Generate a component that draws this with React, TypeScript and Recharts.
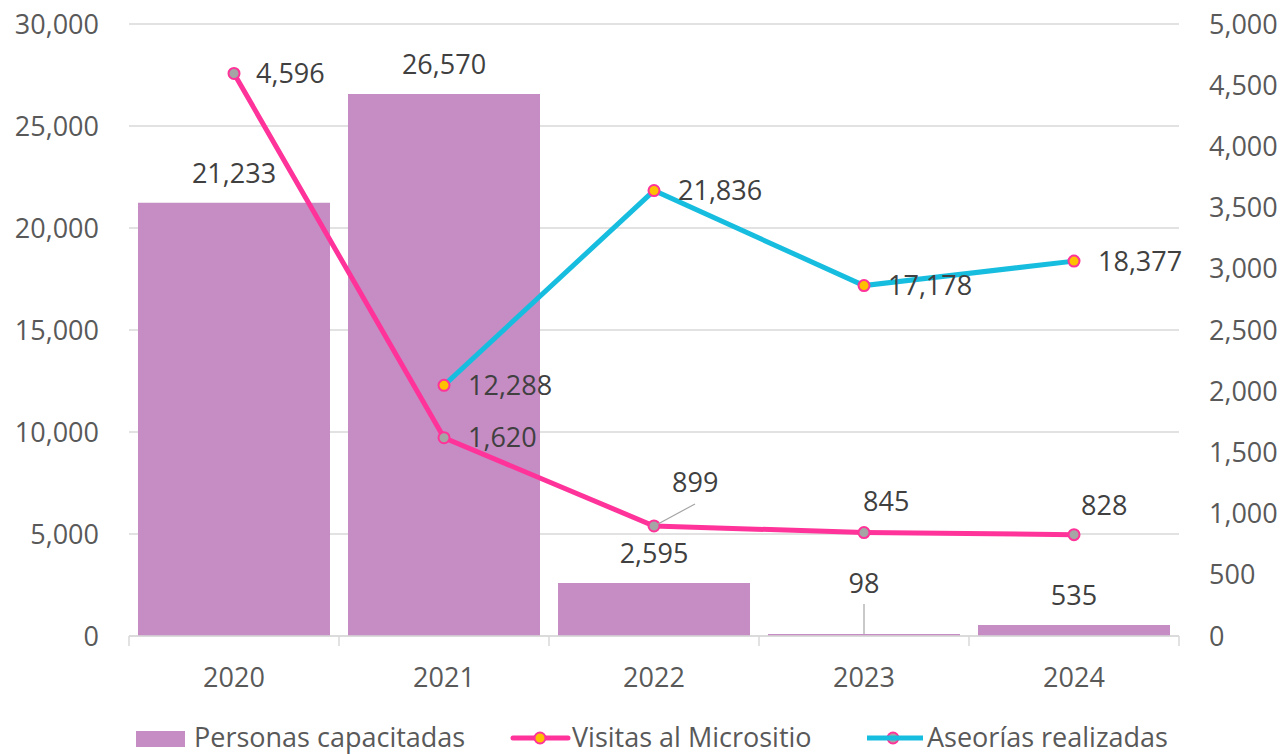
import React from 'react';
import {
  ComposedChart,
  Bar,
  Line,
  XAxis,
  YAxis,
  CartesianGrid,
  LabelList,
} from 'recharts';

// ---- Data ----
const years = ['2020', '2021', '2022', '2023', '2024'];
const personasCapacitadas = [21233, 26570, 2595, 98, 535];
const visitasMicrositio = [4596, 1620, 899, 845, 828];
const asesoriasRealizadas: (number | null)[] = [null, 12288, 21836, 17178, 18377];
const leftTicks = [0, 5000, 10000, 15000, 20000, 25000, 30000];
const rightTicks = [0, 500, 1000, 1500, 2000, 2500, 3000, 3500, 4000, 4500, 5000];
const legendLabels = ['Personas capacitadas', 'Visitas al Micrositio', 'Aseorías realizadas'];

const data = years.map((y, i) => ({
  year: y,
  personas: personasCapacitadas[i],
  visitas: visitasMicrositio[i],
  asesorias: asesoriasRealizadas[i],
}));

// ---- Style ----
const W = 1281;
const H = 700;
const LEFT_W = 129;
const RIGHT_W = 102;
const TOP = 24;
const XAXIS_H = 64;
const PLOT_W = W - LEFT_W - RIGHT_W;
const BAND = PLOT_W / years.length;

const FONT = '"Open Sans", sans-serif';
const FS = 27;
const AXIS_TEXT = '#595959';
const LABEL_TEXT = '#404040';
const GRID = '#D9D9D9';
const BAR_COLOR = '#C68DC4';
const PINK = '#FF3399';
const CYAN = '#17BDDF';
const ORANGE = '#FFC000';
const GRAY = '#A5A5A5';
const CAP_HALF = 9.5;

const fmt = (v: number) => v.toLocaleString('en-US');

// label placement for the pink series (dx from point, dy of text centre from point)
const visitasPlacement = [
  { dx: 22, dy: 0, leader: false },
  { dx: 24, dy: 0, leader: false },
  { dx: 18, dy: -43, leader: true },
  { dx: -1, dy: -31, leader: false },
  { dx: 7, dy: -29, leader: false },
];

const BarLabel = (props: any) => {
  const { x, y, width, height, value } = props;
  if (value == null) return null;
  const cx = Number(x) + Number(width) / 2;
  const top = Number(y);
  const small = Math.abs(Number(height)) < 6;
  const gap = small ? 41 : 20;
  return (
    <g>
      {small && (
        <line x1={cx} y1={top - 30} x2={cx} y2={top} stroke={GRAY} strokeWidth={1.2} />
      )}
      <text
        x={cx}
        y={top - gap}
        textAnchor="middle"
        fill={LABEL_TEXT}
        fontSize={FS}
        fontFamily={FONT}
      >
        {fmt(Number(value))}
      </text>
    </g>
  );
};

const VisitasLabel = (props: any) => {
  const { x, y, value, index } = props;
  if (value == null) return null;
  const p = visitasPlacement[index] || { dx: 22, dy: 0, leader: false };
  const px = Number(x);
  const py = Number(y);
  return (
    <g>
      {p.leader && (
        <line x1={px + 4} y1={py - 2} x2={px + 41} y2={py - 22} stroke={GRAY} strokeWidth={1.2} />
      )}
      <text
        x={px + p.dx}
        y={py + p.dy + CAP_HALF}
        textAnchor="start"
        fill={LABEL_TEXT}
        fontSize={FS}
        fontFamily={FONT}
      >
        {fmt(Number(value))}
      </text>
    </g>
  );
};

const AsesoriasLabel = (props: any) => {
  const { x, y, value } = props;
  if (value == null) return null;
  return (
    <text
      x={Number(x) + 24}
      y={Number(y) + CAP_HALF}
      textAnchor="start"
      fill={LABEL_TEXT}
      fontSize={FS}
      fontFamily={FONT}
    >
      {fmt(Number(value))}
    </text>
  );
};

const XTick = (props: any) => {
  const { x, y, payload, index } = props;
  const cx = Number(x);
  const ty = Number(y);
  return (
    <g>
      <line x1={cx - BAND / 2} y1={ty} x2={cx - BAND / 2} y2={ty + 10} stroke={GRID} strokeWidth={1.5} />
      {index === years.length - 1 && (
        <line x1={cx + BAND / 2} y1={ty} x2={cx + BAND / 2} y2={ty + 10} stroke={GRID} strokeWidth={1.5} />
      )}
      <text x={cx} y={ty + 51} textAnchor="middle" fill={AXIS_TEXT} fontSize={FS} fontFamily={FONT}>
        {payload.value}
      </text>
    </g>
  );
};

const dotStyle = (fill: string) => ({
  r: 5.5,
  fill,
  stroke: PINK,
  strokeWidth: 2,
});

const Legend = () => (
  <svg
    width={W}
    height={754}
    style={{ position: 'absolute', left: 0, top: 0, pointerEvents: 'none' }}
  >
    <rect x={136} y={731} width={49} height={16} fill={BAR_COLOR} />
    <text x={194} y={747} fill={AXIS_TEXT} fontSize={FS} fontFamily={FONT}>
      {legendLabels[0]}
    </text>
    <line x1={513} y1={738} x2={568} y2={738} stroke={PINK} strokeWidth={5} strokeLinecap="round" />
    <circle cx={540} cy={738} r={5.5} fill={ORANGE} stroke={PINK} strokeWidth={2} />
    <text x={572} y={747} fill={AXIS_TEXT} fontSize={FS} fontFamily={FONT}>
      {legendLabels[1]}
    </text>
    <circle cx={893} cy={738} r={5.5} fill={GRAY} stroke={PINK} strokeWidth={2} />
    <line x1={867} y1={738} x2={923} y2={738} stroke={CYAN} strokeWidth={5} />
    <text x={927} y={747} fill={AXIS_TEXT} fontSize={FS} fontFamily={FONT}>
      {legendLabels[2]}
    </text>
  </svg>
);

export default function App() {
  return (
    <div style={{ position: 'absolute', left: 0, top: 0, width: W, height: 754, background: '#fff' }}>
      <ComposedChart
        width={W}
        height={H}
        data={data}
        margin={{ top: TOP, right: 0, bottom: 0, left: 0 }}
        barCategoryGap={9}
      >
        <CartesianGrid yAxisId="left" vertical={false} stroke={GRID} strokeWidth={1.5} />
        <XAxis
          dataKey="year"
          height={XAXIS_H}
          tickSize={0}
          tickMargin={0}
          axisLine={{ stroke: GRID, strokeWidth: 1.5 }}
          tickLine={false}
          tick={<XTick />}
          interval={0}
        />
        <YAxis
          yAxisId="left"
          orientation="left"
          width={LEFT_W}
          domain={[0, 30000]}
          ticks={leftTicks}
          tickFormatter={fmt}
          axisLine={false}
          tickLine={false}
          tickSize={0}
          tickMargin={30}
          tick={{ fill: AXIS_TEXT, fontSize: FS, fontFamily: FONT }}
          interval={0}
        />
        <YAxis
          yAxisId="right"
          orientation="right"
          width={RIGHT_W}
          domain={[0, 5000]}
          ticks={rightTicks}
          tickFormatter={fmt}
          axisLine={false}
          tickLine={false}
          tickSize={0}
          tickMargin={30}
          tick={{ fill: AXIS_TEXT, fontSize: FS, fontFamily: FONT, textAnchor: 'start' }}
          interval={0}
        />
        <Bar yAxisId="left" dataKey="personas" fill={BAR_COLOR} isAnimationActive={false}>
          <LabelList dataKey="personas" content={<BarLabel />} />
        </Bar>
        <Line
          yAxisId="right"
          dataKey="visitas"
          stroke={PINK}
          strokeWidth={5}
          dot={dotStyle(GRAY)}
          activeDot={false}
          isAnimationActive={false}
        >
          <LabelList dataKey="visitas" content={<VisitasLabel />} />
        </Line>
        <Line
          yAxisId="left"
          dataKey="asesorias"
          stroke={CYAN}
          strokeWidth={5}
          dot={dotStyle(ORANGE)}
          activeDot={false}
          connectNulls={false}
          isAnimationActive={false}
        >
          <LabelList dataKey="asesorias" content={<AsesoriasLabel />} />
        </Line>
      </ComposedChart>
      <Legend />
    </div>
  );
}
